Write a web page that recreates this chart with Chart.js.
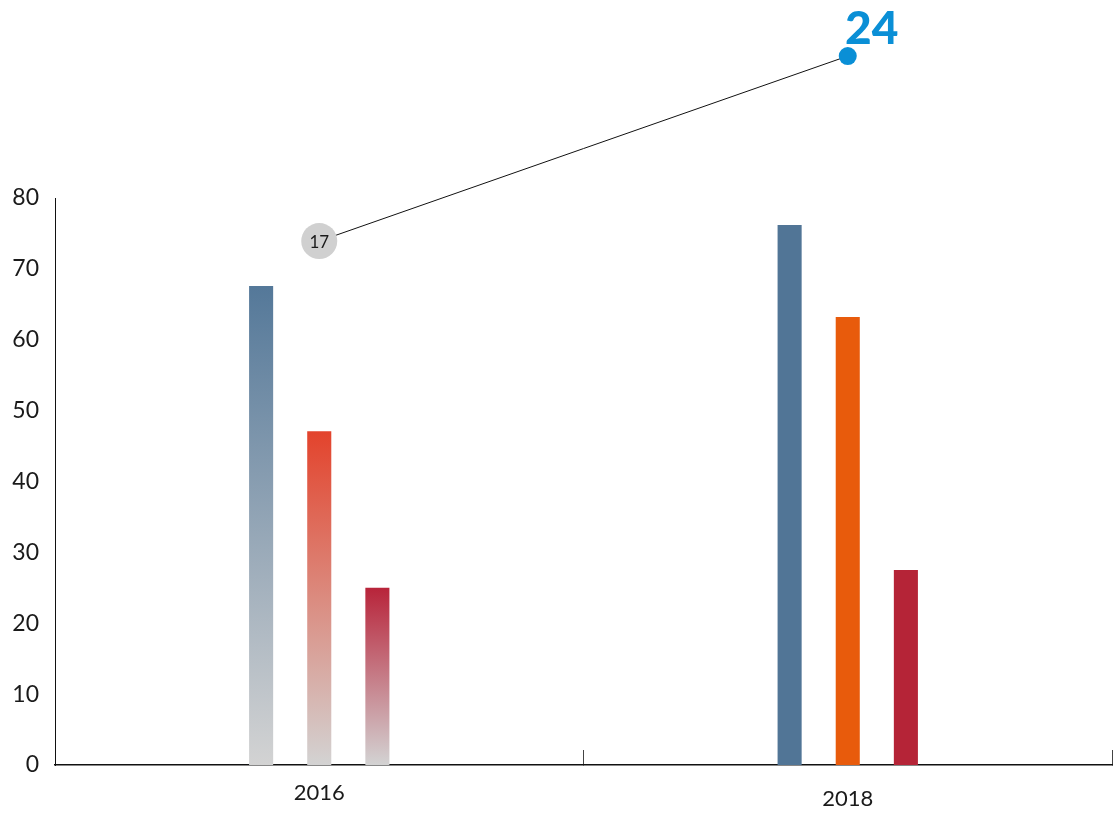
<!DOCTYPE html>
<html>
<head>
<meta charset="utf-8">
<script src="https://cdn.jsdelivr.net/npm/chart.js@4.4.1/dist/chart.umd.min.js"></script>
<style>
  body { margin: 0; background: #fff; }
  #wrap { width: 1113px; height: 814px; }
</style>
</head>
<body>
<div id="wrap"><canvas id="chart" width="1113" height="814"></canvas></div>
<script>
const years = ['2016', '2018'];
const blueValues = [67.6, 76.2];
const orangeValues = [47.1, 63.2];
const redValues = [25, 27.5];
const lineValues = [17, 24];
const yTicks = [0, 10, 20, 30, 40, 50, 60, 70, 80];

const FONT = 'Lato, "Open Sans", sans-serif';

// 2016 bars fade to grey at the bottom, 2018 bars are solid
function barColor(top, solid) {
    return function (ctx) {
        if (ctx.dataIndex === 1) return solid;
        let chart = ctx.chart;
        let v = ctx.raw;
        if (!chart.chartArea || v == null) return top;
        let y = chart.scales.y;
        let g = chart.ctx.createLinearGradient(0, y.getPixelForValue(v), 0, y.getPixelForValue(0));
        g.addColorStop(0, top);
        g.addColorStop(1, '#d3d3d3');
        return g;
    };
}

// points above the chart area are skipped by chart.js, so let them draw
// with the whole canvas as area, then put the value labels on them
const pointLabels = {
    id: 'pointLabels',
    afterDatasetsDraw(chart) {
        let meta = chart.getDatasetMeta(3);
        let c = chart.ctx;
        let full = { left: 0, top: 0, right: chart.width, bottom: chart.height };
        c.save();
        meta.data.forEach(function (pt, i) {
            if (pt.y < chart.chartArea.top) pt.draw(c, full);
            let val = lineValues[i];
            c.textAlign = 'center';
            c.textBaseline = 'middle';
            if (i === 0) {
                c.font = '17px ' + FONT;
                c.fillStyle = '#1a1a1a';
                c.fillText(val, pt.x, pt.y + 1);
            } else {
                c.font = '900 46px ' + FONT;
                c.fillStyle = '#0a8fd6';
                c.fillText(val, pt.x + 24, pt.y - 27);
            }
        });
        c.restore();
    }
};

let ctx = document.getElementById('chart').getContext('2d');

let chart = new Chart(ctx, {
    data: {
        labels: years,
        datasets: [{
            type: 'bar',
            data: blueValues,
            backgroundColor: barColor('#547899', '#517596'),
            categoryPercentage: 0.33,
            barPercentage: 0.414,
            order: 2
        }, {
            type: 'bar',
            data: orangeValues,
            backgroundColor: barColor('#e3432c', '#e85b0c'),
            categoryPercentage: 0.33,
            barPercentage: 0.414,
            order: 2
        }, {
            type: 'bar',
            data: redValues,
            backgroundColor: barColor('#b8243a', '#b52437'),
            categoryPercentage: 0.33,
            barPercentage: 0.414,
            order: 2
        }, {
            type: 'line',
            data: lineValues,
            yAxisID: 'y2',
            borderColor: '#111',
            borderWidth: 1,
            pointRadius: [18, 9],
            pointHoverRadius: [18, 9],
            pointBorderWidth: 0,
            pointBackgroundColor: ['#d0d0d0', '#0a8fd6'],
            clip: false,
            order: 1
        }]
    },
    options: {
        responsive: false,
        animation: false,
        layout: {
            autoPadding: false,
            padding: { top: 198, right: 1, left: 0, bottom: 0 }
        },
        plugins: {
            legend: { display: false },
            tooltip: { enabled: false }
        },
        scales: {
            x: {
                offset: true,
                grid: {
                    offset: true,
                    drawOnChartArea: false,
                    tickLength: -15,
                    color: '#444',
                    lineWidth: 1
                },
                border: { color: '#111', width: 1.5 },
                ticks: {
                    color: '#1a1a1a',
                    padding: 31,
                    font: function (c) {
                        return { family: FONT, size: 22, lineHeight: c.index === 1 ? 1.65 : 1.1 };
                    }
                },
                afterFit: function (s) { s.height = 49; }
            },
            y: {
                min: 0,
                max: 80,
                afterBuildTicks: function (s) {
                    s.ticks = yTicks.map(function (v) { return { value: v }; });
                },
                grid: { display: false, drawTicks: false },
                border: { color: '#111', width: 1 },
                ticks: {
                    color: '#1a1a1a',
                    padding: 16,
                    font: { family: FONT, size: 23 }
                },
                afterFit: function (s) { s.width = 55; }
            },
            y2: {
                display: false,
                min: -2.82,
                max: 18.63
            }
        }
    },
    plugins: [pointLabels]
});
</script>
</body>
</html>
